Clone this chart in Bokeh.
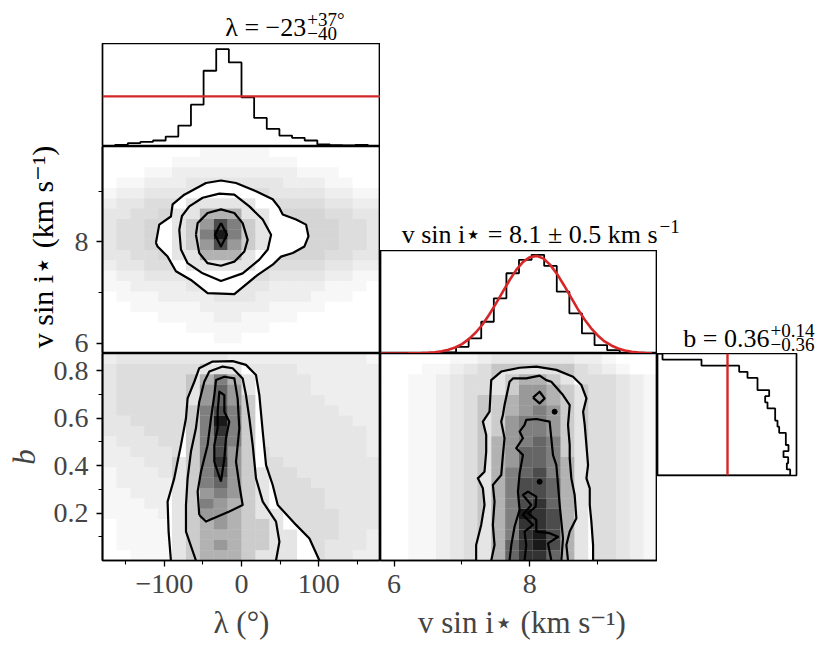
import math
import numpy as np
from bokeh.plotting import figure
from bokeh.models import FixedTicker, Span, Label, Range1d, ColumnDataSource
from bokeh.layouts import row, column
from bokeh.embed import file_html
from bokeh.resources import INLINE

FONT = "Liberation Serif"
RED = "#d62728"

# ---------------- data ----------------
LAM_LIM = [-180.0, 180.0]
VS_LIM = [5.80, 9.88]
B_LIM = [0.0, 0.872]

lam_counts = [1, 5, 10, 14, 18, 30, 63, 126, 228, 293, 253, 148, 86, 53, 33, 26, 18, 6, 4, 3, 5, 1]
lam_prior = 151
vs_counts = [0, 0, 0, 0, 0, 3, 20, 45, 95, 165, 240, 280, 295, 262, 185, 120, 60, 25, 10, 2, 0, 0]
vs_prior_x = [5.8, 5.9, 6.0, 6.1, 6.2, 6.3, 6.4, 6.5, 6.6, 6.7, 6.8, 6.9, 7.0, 7.1, 7.2, 7.3, 7.4,
              7.5, 7.6, 7.7, 7.8, 7.9, 8.0, 8.1, 8.2, 8.3, 8.4, 8.5, 8.6, 8.7, 8.8, 8.9, 9.0, 9.1,
              9.2, 9.3, 9.4, 9.5, 9.6, 9.7, 9.8, 9.9]
vs_prior_y = [0, 0, 0.05, 0.1, 0.25, 0.5, 1.0, 2.0, 3.7, 6.5, 11, 18, 28, 43, 62, 86, 116,
              149, 184, 219, 250, 274, 288, 292, 284, 265, 238, 205, 170, 135, 103, 76, 54, 36,
              24, 15, 9, 5.2, 2.9, 1.5, 0.8, 0.3]
b_counts = [398, 388, 392, 378, 393, 385, 385, 365, 360, 353, 353, 330, 323, 335, 300, 300, 270, 245, 132, 15]
b_prior = 210

lam_ticks, lam_minor = [-100, 0, 100], [-150, -50, 50, 150]
vs_ticks, vs_minor = [6, 8], [7, 9]
b_ticks, b_minor = [0.2, 0.4, 0.6, 0.8], [0.1, 0.3, 0.5, 0.7]

# 2D panel: lambda vs vsini (rows listed from top)
B_haze = ["00000001111100000000", "00000111111111000000", "00011222222222111000",
          "01122233333332221100", "12233334444433332211", "23344444444444443322",
          "33445555555555554433", "34455555555555555443", "34455555555555555443",
          "34455555555555555443", "33445555555555554433", "23344444555544443322",
          "12233334444433332211", "11222233333322221110", "01112222333222211100",
          "00111112222211110000", "00001111221111000000", "00000011111100000000",
          "00000000110000000000", "00000000000000000000"]
B_dens = ["00000000000000000000", "00000000000000000000", "00000000000000000000",
          "00000000000000000000", "00000000000000000000", "00000011111000000000",
          "00000113331100000000", "00000124752100000000", "00000125952100000000",
          "00000124742100000000", "00000113331000000000", "00000011111000000000",
          "00000000000000000000", "00000000000000000000", "00000000000000000000",
          "00000000000000000000", "00000000000000000000", "00000000000000000000",
          "00000000000000000000", "00000000000000000000"]
B_c1 = [(-110.8, 7.98), (-106.5, 8.34), (-91.4, 8.50), (-89.2, 8.74), (-74.1, 8.93), (-46.0, 9.16),
        (-26.6, 9.21), (-7.1, 9.16), (18.8, 9.00), (40.4, 8.84), (49.1, 8.67), (53.4, 8.54),
        (70.7, 8.44), (83.6, 8.34), (86.7, 8.11), (81.5, 7.91), (66.4, 7.78), (51.2, 7.71),
        (40.4, 7.55), (21.0, 7.35), (-9.3, 6.97), (-43.9, 6.99), (-65.5, 7.25), (-84.9, 7.42),
        (-95.7, 7.71), (-108.7, 7.91)]
B_c2 = [(-80.6, 8.24), (-77.1, 8.51), (-67.6, 8.70), (-50.3, 8.87), (-28.7, 8.95), (-9.3, 8.93),
        (10.2, 8.70), (27.5, 8.44), (38.3, 8.14), (34.0, 7.85), (23.1, 7.65), (1.5, 7.38),
        (-26.6, 7.23), (-50.3, 7.38), (-69.8, 7.58), (-78.4, 7.85)]
B_c3 = [(-59.0, 8.14), (-56.8, 8.37), (-43.9, 8.57), (-26.6, 8.64), (-9.3, 8.57), (1.5, 8.37),
        (8.0, 8.04), (3.7, 7.81), (-9.3, 7.61), (-26.6, 7.53), (-43.9, 7.58), (-54.7, 7.78)]
B_c4 = [(-26.6, 8.37), (-18.8, 8.14), (-26.6, 7.91), (-34.3, 8.14)]

# 2D panel: lambda vs b
D_haze = ["23333333322222222221", "34444444433333222222", "34444444433333322222",
          "34444444433333322222", "34444444443333332222", "34444444443333333222",
          "33444444443333333322", "33344444443333333332", "23334444444333333332",
          "22333444444433333332", "22233344444443333333", "12223334444444333333",
          "12222333444444433333", "11222233344444443333", "11122223334444443333",
          "11112222333444444333", "01111222333444444333", "01111222333444444332",
          "01111122233444443332", "00111122233444443322"]
D_dens = ["00000000000000000000", "00000001110000000000", "00000013531000000000",
          "00000014641000000000", "00000014642000000000", "00000025752000000000",
          "00000025952000000000", "00000025852000000000", "00000025752000000000",
          "00000025742000000000", "00000125842000000000", "00000125742100000000",
          "00000125642100000000", "00000124542100000000", "00000125432100000000",
          "00000124432110000000", "00000123432210000000", "00000123332211000000",
          "00000123432211000000", "00000123332111000000"]
D_c1 = [(-91.4, 0.0), (-94.4, 0.122), (-95.7, 0.248), (-87.1, 0.346), (-82.8, 0.416), (-78.4, 0.486),
        (-71.9, 0.599), (-69.8, 0.683), (-61.1, 0.753), (-54.7, 0.810), (-37.4, 0.838), (-11.4, 0.840),
        (5.8, 0.824), (18.8, 0.781), (23.1, 0.697), (27.5, 0.543), (31.8, 0.402), (40.4, 0.318),
        (46.9, 0.234), (70.7, 0.150), (88.0, 0.093), (100.9, 0.0)]
D_c2 = [(-59.0, 0.0), (-71.9, 0.122), (-71.9, 0.234), (-69.8, 0.346), (-65.5, 0.458), (-59.0, 0.557),
        (-54.7, 0.669), (-48.2, 0.753), (-41.7, 0.796), (-24.4, 0.817), (-11.4, 0.810), (1.5, 0.767),
        (5.8, 0.697), (10.2, 0.599), (14.5, 0.486), (18.8, 0.346), (27.5, 0.248), (44.7, 0.164),
        (49.1, 0.079), (44.7, 0.0)]
D_c3 = [(-54.7, 0.192), (-56.8, 0.290), (-52.5, 0.374), (-43.9, 0.486), (-39.5, 0.599), (-35.2, 0.697),
        (-33.0, 0.760), (-22.2, 0.774), (-9.3, 0.767), (-5.0, 0.683), (-2.8, 0.557), (-7.1, 0.416),
        (-2.8, 0.318), (1.5, 0.234), (-15.8, 0.206), (-46.0, 0.164)]
D_c4 = [(-26.6, 0.332), (-35.2, 0.416), (-35.2, 0.486), (-30.9, 0.557), (-30.9, 0.627), (-28.7, 0.711),
        (-22.2, 0.697), (-22.2, 0.627), (-15.8, 0.585), (-20.1, 0.515), (-22.2, 0.430)]

# 2D panel: vsini vs b
E_haze = ["00000112333333221000", "00011234444444432100", "00112344444444444321",
          "00112344444444444321", "00112344444444444321", "00112344444444444321",
          "00112344444444444321", "00112344444444444321", "00112344444444444321",
          "00112344444444444321", "00112344444444444321", "00112344444444444321",
          "00112344444444444321", "00112344444444444321", "00112344444444444321",
          "00112344444444444321", "00112344444444444321", "00112344444444444321",
          "00112344444444444321", "00112344444444444321"]
E_dens = ["00000000000000000000", "00000000111111000000", "00000000123321000000",
          "00000000124432100000", "00000001234432100000", "00000001234542100000",
          "00000001245542100000", "00000001245542100000", "00000001345652100000",
          "00000001346652100000", "00000001346653100000", "00000001356753100000",
          "00000001357763100000", "00000001357763100000", "00000001357863100000",
          "00000001359873100000", "00000001358873100000", "00000001358973100000",
          "00000001368973100000", "00000001368863100000"]
E_c1 = [(7.209, 0.0), (7.209, 0.065), (7.283, 0.150), (7.332, 0.234), (7.308, 0.304), (7.234, 0.346),
        (7.332, 0.374), (7.357, 0.458), (7.357, 0.529), (7.308, 0.585), (7.406, 0.627), (7.431, 0.760),
        (7.578, 0.796), (7.849, 0.812), (8.095, 0.817), (8.390, 0.803), (8.636, 0.774), (8.759, 0.739),
        (8.833, 0.683), (8.784, 0.627), (8.808, 0.571), (8.833, 0.486), (8.857, 0.402), (8.833, 0.346),
        (8.882, 0.304), (8.882, 0.234), (8.906, 0.164), (8.931, 0.065), (8.931, 0.0)]
E_c2 = [(7.431, 0.0), (7.480, 0.065), (7.455, 0.150), (7.480, 0.248), (7.455, 0.318), (7.578, 0.360),
        (7.603, 0.444), (7.627, 0.515), (7.578, 0.585), (7.603, 0.613), (7.627, 0.655), (7.701, 0.753),
        (7.750, 0.767), (7.947, 0.767), (8.144, 0.779), (8.242, 0.760), (8.316, 0.753), (8.488, 0.697),
        (8.587, 0.655), (8.562, 0.571), (8.587, 0.486), (8.587, 0.430), (8.611, 0.346), (8.660, 0.276),
        (8.685, 0.178), (8.587, 0.122), (8.538, 0.065), (8.562, 0.0)]
E_c3 = [(7.701, 0.0), (7.726, 0.065), (7.775, 0.143), (7.849, 0.213), (7.824, 0.290), (7.849, 0.367),
        (7.898, 0.444), (7.800, 0.473), (7.898, 0.515), (7.849, 0.543), (7.922, 0.571), (7.947, 0.592),
        (8.095, 0.596), (8.291, 0.585), (8.316, 0.515), (8.341, 0.444), (8.390, 0.402), (8.415, 0.318),
        (8.439, 0.234), (8.464, 0.164), (8.488, 0.094), (8.464, 0.0)]
E_c4 = [(7.922, 0.0), (7.947, 0.065), (7.922, 0.122), (8.046, 0.150), (7.898, 0.192), (8.021, 0.234),
        (7.898, 0.276), (7.972, 0.290), (8.095, 0.269), (8.085, 0.227), (7.972, 0.199), (8.095, 0.171),
        (8.095, 0.122), (8.291, 0.115), (8.415, 0.100), (8.267, 0.072), (8.316, 0.0)]
E_c5 = [(8.046, 0.686), (8.144, 0.711), (8.218, 0.683), (8.144, 0.662)]
E_dot_x = [8.365, 8.144]
E_dot_y = [0.627, 0.332]


# ---------------- helpers ----------------
def make_fig(w, h, xr, yr, left=0, right=0, top=0, bottom=0, xaxis=False, yaxis=False):
    p = figure(width=w, height=h, x_range=Range1d(*xr), y_range=Range1d(*yr),
               x_axis_location="below" if xaxis else None,
               y_axis_location="left" if yaxis else None,
               toolbar_location=None, output_backend="svg",
               min_border_left=left, min_border_right=right,
               min_border_top=top, min_border_bottom=bottom)
    p.grid.visible = False
    p.outline_line_color = "black"
    p.outline_line_width = 1.7
    p.background_fill_color = "white"
    p.border_fill_color = "white"
    return p


def text_fig(w, h):
    # a plain canvas (pixel coordinates) that only carries text
    p = make_fig(w, h, [0, w], [0, h])
    p.outline_line_color = None
    return p


def style_axis(ax, ticks, minor, label, italic=False, overrides=None):
    ax.ticker = FixedTicker(ticks=ticks, minor_ticks=minor)
    ax.axis_label = label
    ax.axis_label_text_font = FONT
    ax.axis_label_text_font_size = "31px"
    ax.axis_label_text_font_style = "italic" if italic else "normal"
    ax.axis_label_standoff = 9
    ax.major_label_text_font = FONT
    ax.major_label_text_font_size = "28px"
    ax.major_label_text_line_height = 1.0
    ax.major_label_standoff = 8
    ax.major_tick_in = 0
    ax.major_tick_out = 6
    ax.minor_tick_in = 0
    ax.minor_tick_out = 4
    ax.major_tick_line_width = 1.3
    ax.minor_tick_line_width = 1.1
    ax.axis_line_width = 1.7
    if overrides:
        ax.major_label_overrides = overrides


def step_path(edges, counts):
    xs, ys = [edges[0]], [0.0]
    for i, c in enumerate(counts):
        xs += [edges[i], edges[i + 1]]
        ys += [c, c]
    xs.append(edges[-1])
    ys.append(0.0)
    return xs, ys


def grid_cells(grid, xlim, ylim, scale):
    ny, nx = len(grid), len(grid[0])
    xe = np.linspace(xlim[0], xlim[1], nx + 1)
    ye = np.linspace(ylim[0], ylim[1], ny + 1)
    L, R, B, T, A = [], [], [], [], []
    for r, line in enumerate(grid):
        j = ny - 1 - r
        for c, ch in enumerate(line):
            v = int(ch)
            if v == 0:
                continue
            L.append(xe[c]); R.append(xe[c + 1]); B.append(ye[j]); T.append(ye[j + 1])
            A.append(min(1.0, v * scale))
    return ColumnDataSource(dict(left=L, right=R, bottom=B, top=T, alpha=A))


def draw_2d(p, xlim, ylim, haze, dens, contours):
    p.quad(source=grid_cells(haze, xlim, ylim, 0.033), left="left", right="right",
           bottom="bottom", top="top", fill_color="black", fill_alpha="alpha", line_color=None)
    outer = contours[0]
    p.patch([q[0] for q in outer], [q[1] for q in outer], fill_color="white", line_color=None)
    p.quad(source=grid_cells(dens, xlim, ylim, 0.1), left="left", right="right",
           bottom="bottom", top="top", fill_color="black", fill_alpha="alpha", line_color=None)
    for cont in contours:
        xs = [q[0] for q in cont]
        ys = [q[1] for q in cont]
        if abs(ys[0] - ylim[0]) > 1e-9:
            xs.append(xs[0]); ys.append(ys[0])
        p.line(xs, ys, line_color="black", line_width=2.2, line_join="round")


def add_text(p, x, y, text, size, align="left", angle=0.0, baseline="alphabetic"):
    p.add_layout(Label(x=x, y=y, text=text, text_font=FONT, text_font_size=size, angle=angle,
                       text_align=align, text_baseline=baseline, text_color="black"))


MAIN, SMALL = "26px", "19px"

# ---------------- left column ----------------
LAM_HMAX, VS_HMAX, B_HMAX = 310, 308, 417

tA = text_fig(380, 43)
add_text(tA, 278.5, 16.5, "λ = −23", MAIN, align="right")
add_text(tA, 280, 24, "+37°", SMALL)
add_text(tA, 280, 10, "−40", SMALL)

pA = make_fig(380, 103, LAM_LIM, [0, LAM_HMAX], left=102)
xs, ys = step_path(np.linspace(LAM_LIM[0], LAM_LIM[1], len(lam_counts) + 1), lam_counts)
pA.line(xs, ys, line_color="black", line_width=1.8)
pA.add_layout(Span(location=lam_prior, dimension="width", line_color=RED, line_width=2.4))

tB = text_fig(64, 207)
add_text(tB, 42, 103.5, "v sin i⋆ (km s⁻¹)", "30px", align="center",
         angle=math.pi / 2, baseline="middle")

pB = make_fig(316, 207, LAM_LIM, VS_LIM, left=38, yaxis=True)
draw_2d(pB, LAM_LIM, VS_LIM, B_haze, B_dens, [B_c1, B_c2, B_c3, B_c4])
style_axis(pB.yaxis[0], vs_ticks, vs_minor, "")

pD = make_fig(380, 292, LAM_LIM, B_LIM, left=102, bottom=85, xaxis=True, yaxis=True)
draw_2d(pD, LAM_LIM, B_LIM, D_haze, D_dens, [D_c1, D_c2, D_c3, D_c4])
style_axis(pD.yaxis[0], b_ticks, b_minor, "b", italic=True)
style_axis(pD.xaxis[0], lam_ticks, lam_minor, "λ (°)", overrides={-100: "−100"})

# ---------------- right part ----------------
tC = text_fig(437, 250)
add_text(tC, 277, 16.5, "v sin i⋆ = 8.1 ± 0.5 km s", MAIN, align="right")
add_text(tC, 279, 24, "−1", SMALL)

pC = make_fig(277, 103, VS_LIM, [0, VS_HMAX])
xs, ys = step_path(np.linspace(VS_LIM[0], VS_LIM[1], len(vs_counts) + 1), vs_counts)
pC.line(xs, ys, line_color="black", line_width=1.8)
keep = [i for i, x in enumerate(vs_prior_x) if VS_LIM[0] <= x <= VS_LIM[1]]
pC.line([vs_prior_x[i] for i in keep], [vs_prior_y[i] for i in keep], line_color=RED, line_width=2.6)

tF = text_fig(160, 103)
add_text(tF, 112, 15, "b = 0.36", MAIN, align="right")
add_text(tF, 113, 23, "+0.14", SMALL)
add_text(tF, 113, 9, "−0.36", SMALL)

pE = make_fig(277, 292, VS_LIM, B_LIM, bottom=85, xaxis=True)
draw_2d(pE, VS_LIM, B_LIM, E_haze, E_dens, [E_c1, E_c2, E_c3, E_c4, E_c5])
pE.scatter(E_dot_x, E_dot_y, size=5, color="black")
style_axis(pE.xaxis[0], vs_ticks, vs_minor, "v sin i⋆ (km s⁻¹)")

pF = make_fig(149, 207, [0, B_HMAX], B_LIM, right=10)
ys, xs = step_path(np.linspace(B_LIM[0], B_LIM[1], len(b_counts) + 1), b_counts)
pF.line(xs, ys, line_color="black", line_width=1.8)
pF.add_layout(Span(location=b_prior, dimension="height", line_color=RED, line_width=2.4))

left_col = column(tA, pA, row(tB, pB), pD)
right_col = column(tC, row(pC, tF), row(pE, pF))
layout = row(left_col, right_col)

open("out.html", "w").write(file_html(layout, INLINE))
